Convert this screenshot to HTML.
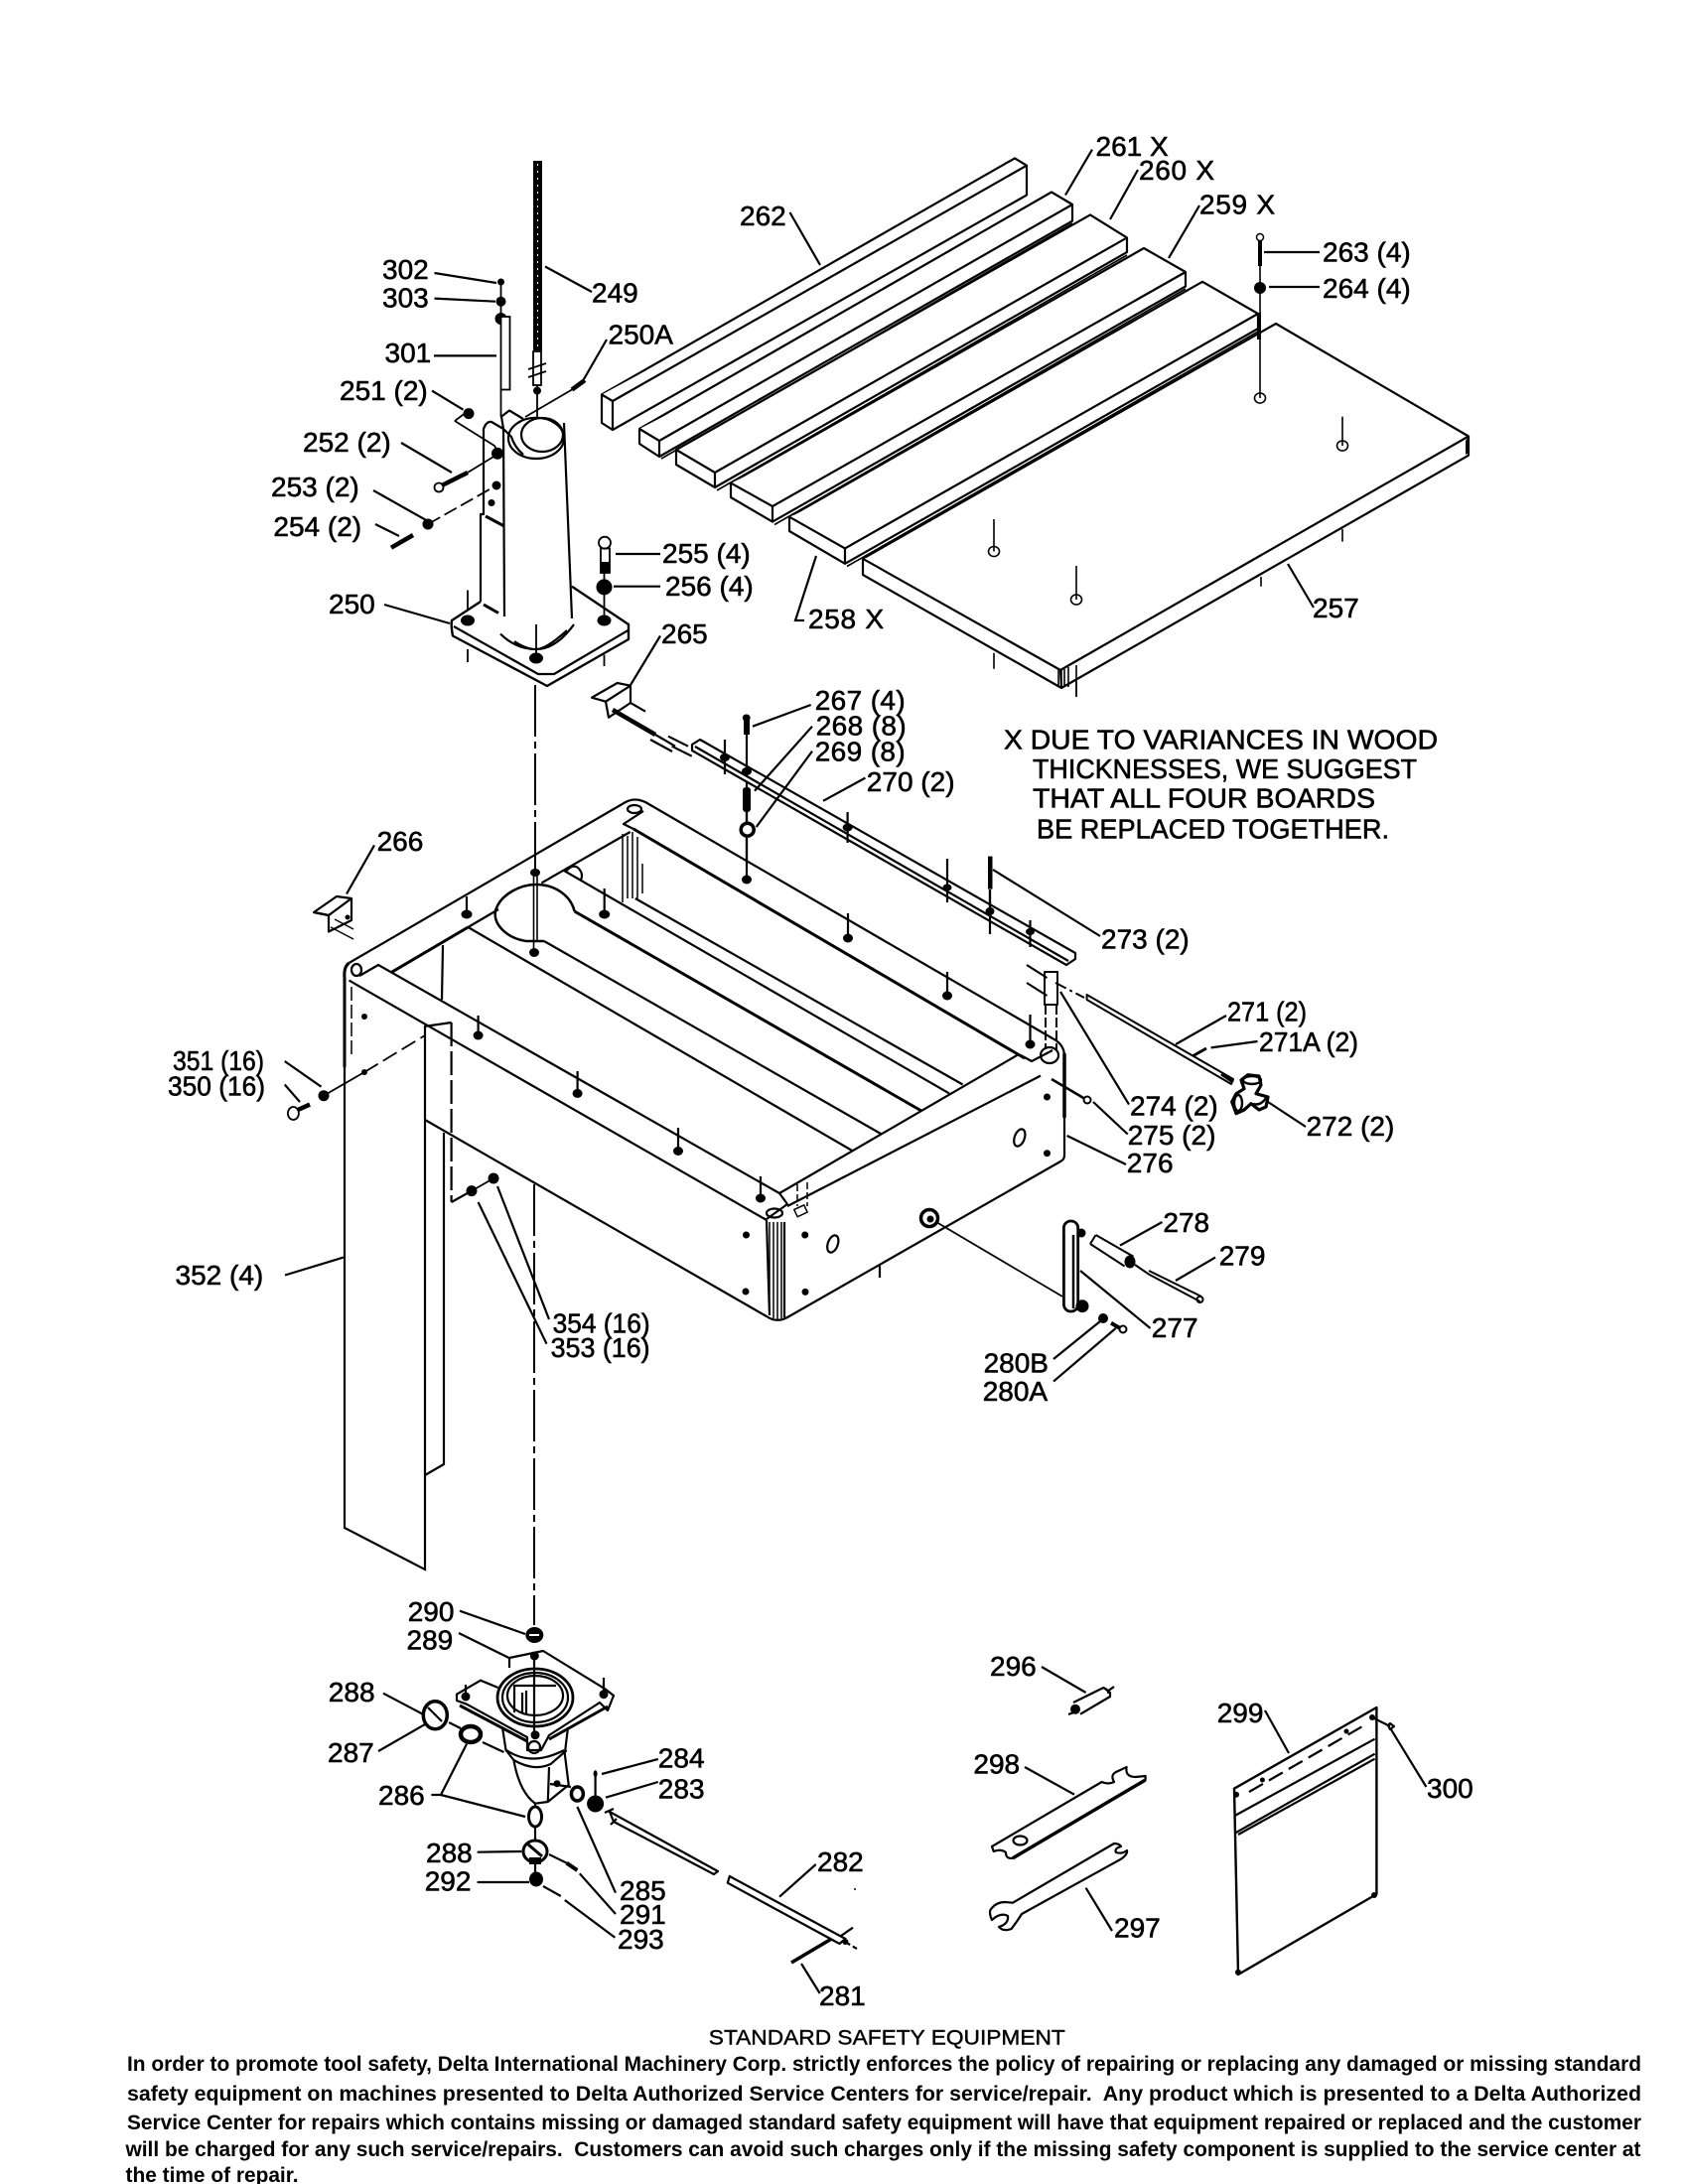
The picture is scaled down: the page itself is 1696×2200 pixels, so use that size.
<!DOCTYPE html>
<html><head><meta charset="utf-8"><style>
html,body{margin:0;padding:0;background:#fff}
svg{display:block}
text{font-family:"Liberation Sans",Arial,sans-serif;fill:#000}
.n text{font-size:28px;stroke:#000;stroke-width:.6px}
.f text{font-size:21px;font-weight:bold}
</style></head><body>
<svg width="1696" height="2200" viewBox="0 0 1696 2200" xmlns="http://www.w3.org/2000/svg">
<rect width="1696" height="2200" fill="#fff"/>

<!-- LEGS -->
<g fill="none" stroke="#000" stroke-width="2.2">
<path d="M347 1075V1539L428 1581V1034"/>
<path d="M447 1141V1475L428 1486"/>
<path d="M446 952L445 1007"/>
<path d="M427 1034L454.6 1030" />
<path d="M454.6 1030V1211" stroke-dasharray="24 5"/>
<path d="M454.6 1211L475 1199.6"/>
<path d="M287 1284.5L346 1266.6"/>
</g>

<!-- BOARDS -->
<g fill="#fff" stroke="#000" stroke-width="2.2" stroke-linejoin="round">
<path d="M606 397.5L1022 159.4L1034 166.7V196.5L617 433L606 426Z"/><path d="M606 397.5L617 404L1034 166.7M617 404V433"/>
<path d="M644 432L1059 193.5L1080 206V222.6L664 460L644 447Z"/><path d="M644 432L664 444L1080 206M664 444V460"/>
<path d="M681 453L1098 216.4L1135 239.4V254L720 491L681 468Z"/><path d="M681 453L720 476L1135 239.4M720 476V491"/>
<path d="M736 486.6L1152 250L1194 274V288.4L778 525.6L736 501Z"/><path d="M736 486.6L778 510L1194 274M778 510V525.6"/>
<path d="M795 520.7L1211 283.8L1267 316V331L851 567.8L795 535Z"/><path d="M795 520.7L851 552.4L1267 316M851 552.4V567.8"/>
<path d="M869 562.8L1285 326L1479 439.5V458.7L1069 693L869 579Z"/><path d="M869 562.8L1068 675L1479 439.5M1068 675L1069 693"/>
</g>
<g fill="none" stroke="#000" stroke-width="1.6">
<path d="M666 462L1080 225M722 494L1135 257M780 528.5L1194 291M853 570.5L1267 334"/>
<path d="M1072 674V692M1066 675V691M1069 675V693M1076 672V692M1084 670V702" />
<path d="M1269 238.6V401M1352 419.6V449M1001 523V555.5M1084 570V604"/>
<path d="M1352 533V545.6M1270 581V590.7M1001 657.7V673.8M1084 686V702"/>
<ellipse cx="1269" cy="401" rx="5.5" ry="5"/><ellipse cx="1352" cy="449" rx="5.5" ry="5"/><ellipse cx="1001" cy="555.5" rx="5.5" ry="5"/><ellipse cx="1084" cy="604" rx="5.5" ry="5"/>
</g>
<path d="M1476 444V458L1479 456V440Z" fill="#000"/>
<path d="M1268 315V342" stroke="#000" stroke-width="4"/>
<rect x="1267" y="241" width="4" height="27" fill="#000"/>
<circle cx="1269" cy="239" r="3.5" fill="#fff" stroke="#000" stroke-width="1.5"/>
<circle cx="1269" cy="290" r="6" fill="#000"/>

<!-- PILLAR -->
<g fill="none" stroke="#000" stroke-width="2.2" stroke-linejoin="round">
<path d="M484 606L455 625Q454 630 456 640.5L551 691L633 644V629L576 590.7" stroke-width="2.4"/>
<path d="M457 631L542 679H558L633 634.7"/>
<path d="M484 606L484 518L487 518L487 432Q490 424 495 425L507 432"/>
<path d="M507 432L508 621"/>
<path d="M568 426L576 623"/>
<ellipse cx="540" cy="441.4" rx="28" ry="20.6"/>
<ellipse cx="546" cy="438" rx="21" ry="17"/>
<path d="M505 419.6L513 413.5L527 422M505 419.6L507 432L515 440Q518 450 527 458"/>
<path d="M504 638.6Q520 654 540 654T578 629M518 646Q530 654 540 654T571 635"/>
<path d="M489 520L507 529.5M487 609L502 617.5" stroke-width="3"/>
</g>
<g fill="#000" stroke="none">
<ellipse cx="471" cy="625" rx="7" ry="5.5"/><ellipse cx="608.5" cy="625" rx="7" ry="5.5"/><ellipse cx="540" cy="663" rx="7" ry="5.5"/>
<circle cx="495" cy="506.5" r="3.5"/>
<rect x="537" y="162" width="9" height="191"/>
<circle cx="541" cy="393.6" r="4"/>
<circle cx="504.5" cy="284" r="3.5"/><circle cx="504.5" cy="303.7" r="5"/><circle cx="504.5" cy="321" r="6"/>
<circle cx="472" cy="416.6" r="5.5"/><circle cx="501" cy="456.8" r="6"/><circle cx="431" cy="528" r="5.5"/><circle cx="500" cy="489" r="4.5"/>
<circle cx="608.5" cy="591.4" r="8"/>
</g>
<g stroke="#fff" stroke-width="1" stroke-dasharray="2 5"><path d="M541.5 165V352"/></g>
<g fill="none" stroke="#000" stroke-width="1.8">
<rect x="537" y="354" width="8" height="34" fill="#fff"/>
<path d="M532 372L550 366M532 380L550 374M541 388V420"/>
<rect x="504.5" y="319" width="9" height="73.5" fill="#fff"/>
<path d="M504.5 284V319M504.5 392.5V420" />
<path d="M458 424L498 449L502 456M458 424L470 415"/>
<path d="M471 476L502 457"/>
<circle cx="442" cy="491" r="4.5"/>
<path d="M431 528L500 489" stroke-dasharray="14 5"/>
<path d="M529 420L576 392.5"/>
<circle cx="609" cy="546.7" r="6" />
<rect x="605" y="552.4" width="9" height="24.6"/>
<path d="M608.5 577V625M608.5 659.6V671M471 594.5V613.6M471 654V667M540 629V659.6"/>
</g>
<path d="M445 489L471 476M394 551.7L416 539M589 383L576 392.5" stroke="#000" stroke-width="4.5" fill="none"/>
<path d="M605 566H614V577H605Z" fill="#000"/>

<!-- CENTRE LINE -->
<path d="M539 690V880" fill="none" stroke="#000" stroke-width="2" stroke-dasharray="52 5 7 5"/>
<path d="M537.5 880V960M541 880V948" fill="none" stroke="#000" stroke-width="1.6"/>
<path d="M538 1193V1637" fill="none" stroke="#000" stroke-width="2" stroke-dasharray="52 5 7 5"/>

<!-- FRAME -->
<g fill="none" stroke="#000" stroke-width="2.2" stroke-linejoin="round">
<path d="M351.5 970L630 808Q639 803 650 808L1060 1046Q1072 1052 1072 1064V1164Q1072 1168 1068 1170L793 1327Q782 1333 772 1326L428 1128"/>
<path d="M351.5 970Q346 974 347 985V1075" stroke-width="3"/>
<path d="M351.5 987.6L772 1229M772 1229L775 1325M790 1231V1327M362 983L381 972L785 1202L793 1213L772 1228"/>
<path d="M793 1215L1048 1083.6M785 1202L1025 1062.6"/>
<path d="M394 979.6L471.4 934" stroke-width="3"/>
<path d="M471.4 934L859 1159.5M471.4 934L502 916M545.4 889.4L634.7 838"/>
<path d="M548 948H530C510 945 495 930 499.5 916C505 900 525 891 540 891C560 891 575 903 578.6 918" stroke-width="2.6"/>
<path d="M578.6 918L928 1119" stroke-width="3"/>
<path d="M548 948L887 1142"/>
<path d="M639.8 905L969.6 1092.5M568 877L956 1101.4"/>
<path d="M638 835L1032 1066" stroke-width="3"/>
<path d="M648 817L628 830L638 835M1028 1063L1039 1069L1060 1058"/>
<path d="M570 878Q576 870 582 874Q588 880 585 886"/>
<ellipse cx="639" cy="815" rx="7" ry="4"/><ellipse cx="359" cy="977" rx="5" ry="6"/><ellipse cx="780" cy="1222" rx="8" ry="4.5"/><ellipse cx="1057" cy="1063" rx="9" ry="8"/>
<path d="M627 840V909M632 842V905M637 838V905M642 843V905M647 870V900" stroke-width="1.5"/>
<path d="M354 994V1066" stroke-dasharray="14 4" stroke-width="1.5"/>
<path d="M775 1231V1325M779 1231V1328M783 1231V1329M787 1231V1328" stroke-width="1.5"/>
<path d="M803 1193V1215M813 1191V1215" stroke-width="1.5" stroke-dasharray="7 3"/>
<rect x="801" y="1216" width="11" height="8" transform="rotate(-25 806 1220)" stroke-width="1.5"/>
<ellipse cx="838.8" cy="1253" rx="5" ry="9" transform="rotate(20 838.8 1253)"/>
<ellipse cx="1026.8" cy="1146" rx="5" ry="9" transform="rotate(20 1026.8 1146)"/>
<path d="M886 1275V1287"/>
<path d="M470 903V920M608.7 895V920M752 776V886M854 920V945M481.6 1023V1043M581.6 1079V1101M683 1136V1159M766 1185V1207M954 979V1003M1037.5 1022V1052"/>
<path d="M1072 1061V1126" stroke-width="3.5"/>
</g>
<g fill="#000">
<ellipse cx="470" cy="921" rx="5.5" ry="4.5"/><ellipse cx="539" cy="879" rx="5" ry="4"/><ellipse cx="538" cy="959.5" rx="5" ry="4.5"/><ellipse cx="608.7" cy="921" rx="5.5" ry="4.5"/><ellipse cx="752" cy="886" rx="5" ry="4.5"/><ellipse cx="854" cy="945" rx="5" ry="4.5"/>
<ellipse cx="481.6" cy="1043" rx="5" ry="4.5"/><ellipse cx="581.6" cy="1101.4" rx="5" ry="4.5"/><ellipse cx="683" cy="1159.5" rx="5" ry="4.5"/><ellipse cx="766" cy="1207" rx="5" ry="4.5"/><ellipse cx="954" cy="1003" rx="5" ry="4.5"/><ellipse cx="1037.5" cy="1052" rx="5" ry="4.5"/>
<circle cx="751.5" cy="1244" r="3.5"/><circle cx="751" cy="1301" r="3.5"/><circle cx="810.7" cy="1244" r="3.5"/><circle cx="811" cy="1301.4" r="3.5"/><circle cx="1054.5" cy="1105" r="3.5"/><circle cx="1054.5" cy="1161.7" r="3.5"/><circle cx="367" cy="1024" r="3"/><circle cx="367" cy="1080" r="3"/>
<circle cx="326" cy="1103.7" r="5.5"/><circle cx="497" cy="1187" r="5.5"/><circle cx="475" cy="1199.6" r="5.5"/>
</g>
<g fill="none" stroke="#000" stroke-width="1.8">
<path d="M326 1103.7L367 1080"/><path d="M367 1080L428 1043" stroke-dasharray="16 6"/>
<ellipse cx="295.4" cy="1121.5" rx="5.5" ry="6.5"/>
<path d="M475 1199.6L497 1187"/>
<circle cx="936" cy="1227" r="8.5" stroke-width="3.5"/>
<path d="M943 1231L1070 1306"/>
</g>
<circle cx="937" cy="1228" r="3.5" fill="#000"/>
<path d="M300 1118L312 1112.6" stroke="#000" stroke-width="4.5"/>

<!-- 266 bracket -->
<g fill="#fff" stroke="#000" stroke-width="2.2" stroke-linejoin="round">
<path d="M316 919L339 903L354 905V927L331 938.5V922Z"/><path d="M316 919L331 922L354 905" fill="none"/>
<path d="M337 926L356 936M333 934L356 946" fill="none" stroke-width="1.4"/>
</g>
<circle cx="350" cy="924" r="2.5" fill="#000"/>

<!-- 265 bracket, rail 270 -->
<g fill="none" stroke="#000" stroke-width="2.2" stroke-linejoin="round">
<path d="M596 702.7L621.7 688L635 690.7V708L613 722.7L610 706.7ZM610 706.7L635 690.7" fill="#fff"/>
<path d="M635 708L650 716.7M673 741.7L693 751.7M676.7 751.7L696.7 761.7M660 740L680 751.7M655 745L677 757"/>
<path d="M705 745L1083 960L1083 966L1074 972L697 756V750Z" fill="#fff"/>
<path d="M700 752L1076 968"/>
<path d="M730 745V780M853.6 818V849M954 865V909M997 896V941M1037.5 927V954"/>
<path d="M752 723V777M752 818V868M997 896V918"/>
</g>
<path d="M617 715L660 740" stroke="#000" stroke-width="4.5"/>
<g fill="#000">
<ellipse cx="730" cy="763" rx="5" ry="4"/><ellipse cx="853.6" cy="833.6" rx="5" ry="4"/><ellipse cx="954" cy="894" rx="4.5" ry="3.5"/><ellipse cx="997" cy="918" rx="4.5" ry="4"/><ellipse cx="1037.5" cy="938.5" rx="4.5" ry="3.5"/><ellipse cx="752" cy="777" rx="5" ry="4"/>
<ellipse cx="751.7" cy="723" rx="4" ry="3.5"/><rect x="749" y="723" width="6" height="17"/><rect x="748" y="793" width="8" height="25" rx="3"/><rect x="995" y="862.6" width="4.5" height="33"/>
</g>
<circle cx="752.7" cy="835.7" r="6.5" fill="#fff" stroke="#000" stroke-width="3.5"/>

<!-- 271-275 parts -->
<g fill="none" stroke="#000" stroke-width="2" stroke-linejoin="round">
<rect x="1052" y="979" width="13" height="33"/>
<path d="M1053 1012V1057M1064 1012V1057" stroke-dasharray="10 3"/>
<path d="M1034 972L1054.5 985M1034 990L1054.5 1003"/>
<path d="M1063 990L1092 1005" stroke-dasharray="12 4 3 4"/>
<path d="M1094.6 1002L1242 1087L1240 1092L1094.6 1007Z"/>
<path d="M1059 1087L1094.6 1108" stroke-width="2.5"/><circle cx="1095" cy="1108" r="3.5" fill="#fff"/>
<path d="M1250 1088L1256.7 1082.7L1268 1084L1270 1093L1265 1101.7L1277 1105L1275 1115L1268 1118L1260 1111.7L1253 1118L1245 1121.7L1240.7 1110L1245 1101.7L1253 1096.7Z" stroke-width="3.2" fill="#fff"/>
<ellipse cx="1261" cy="1088" rx="9" ry="4" stroke-width="2.4"/>
<ellipse cx="1247" cy="1111" rx="4" ry="8" stroke-width="2.4"/>
<path d="M1262 1112Q1270 1114 1275 1106" stroke-width="2.4"/>
<path d="M1201.8 1063.5L1215 1056" stroke-width="3"/>
<path d="M1230 1082L1242 1090" stroke-width="3"/>
<rect x="1071.4" y="1230" width="14.3" height="91" rx="7" stroke-width="2.8"/>
<path d="M1081 1244V1318" stroke-width="2.5"/>
<path d="M1103.6 1244L1141.5 1265.7M1098 1253L1132.6 1275.5M1103.6 1244L1098 1253"/>
<path d="M1143 1274L1157 1283.6M1157 1283.6L1208.5 1311M1157 1280L1210 1306"/>
<circle cx="1208.5" cy="1309" r="3"/>
<circle cx="1131" cy="1339" r="3.5"/>
</g>
<g fill="#000"><circle cx="1089" cy="1242" r="4.5"/><circle cx="1090" cy="1315.7" r="6.5"/><ellipse cx="1138" cy="1271" rx="5.5" ry="6.5"/><circle cx="1111" cy="1328" r="5"/></g>
<path d="M1119 1332.7L1128 1338" stroke="#000" stroke-width="4"/>

<!-- LOWER ASSEMBLY -->
<g fill="none" stroke="#000" stroke-width="2.2" stroke-linejoin="round">
<path d="M506 1740L509.5 1763L517.4 1773Q523 1805 539 1816.7L551.8 1815L572.7 1798L568.8 1766.7L572 1740" fill="#fff"/>
<path d="M553 1780L551.8 1815M517.4 1773Q538 1785 555 1776.7L570.7 1763M510 1763Q535 1780 568 1763" />
<path d="M513 1670L547 1663L610 1701.7L618 1708L612 1723L604 1715L553 1748L545 1763H531V1750L470 1716.7L460 1713V1706.7L484 1692.7L501.6 1700" fill="#fff"/>
<path d="M513 1670V1680" />
<path d="M463 1718L531 1754M553 1752L612 1719" stroke-width="3"/>
<circle cx="538" cy="1760" r="6"/>
<ellipse cx="539" cy="1710" rx="38" ry="29" fill="#fff" stroke-width="2.8"/>
<ellipse cx="539" cy="1710" rx="33" ry="25"/>
<ellipse cx="539" cy="1708" rx="28" ry="20"/>
<path d="M518 1725V1698L560 1698M526 1725V1705M538 1670V1747M530 1703V1726"/>
<path d="M608 1690V1703M469 1697V1707"/>
<ellipse cx="438.3" cy="1727.7" rx="12" ry="14" stroke-width="3.5"/>
<path d="M431 1720L445 1734M452 1735L464 1741M486 1755L507.5 1765"/>
<ellipse cx="474" cy="1747" rx="10" ry="8" stroke-width="4.5" fill="#fff"/>
<path d="M554 1797L575 1800M599.6 1786.7V1817"/>
<ellipse cx="581.4" cy="1807" rx="6" ry="7" stroke-width="3.5"/>
<path d="M539 1817V1893"/>
<ellipse cx="539" cy="1830" rx="6.5" ry="10" fill="#fff" stroke-width="3"/>
<ellipse cx="539" cy="1865" rx="12" ry="11" fill="#fff" stroke-width="3"/>
<path d="M532 1858L546 1870" stroke-width="3"/>
<path d="M614 1825L723 1885L719 1888L618 1835Z"/>
<path d="M734.8 1890L851.4 1953L845.5 1958L732.8 1896.7Z"/>
<path d="M609 1826L618 1822M615 1838L621 1832M847 1950L859 1941.7"/>
<path d="M851 1956L863 1963" stroke-dasharray="6 3"/>
</g>
<g fill="#000">
<ellipse cx="538.3" cy="1647" rx="9" ry="8"/><circle cx="538.3" cy="1668" r="4.5"/><circle cx="469" cy="1709" r="4.5"/><circle cx="608" cy="1706.7" r="4.5"/><circle cx="539" cy="1747.7" r="4.5"/>
<circle cx="561" cy="1796.7" r="3.5"/><circle cx="599.6" cy="1817" r="8.5"/><ellipse cx="599.6" cy="1786.7" rx="2" ry="3.5"/>
<ellipse cx="540" cy="1893" rx="7" ry="7.5"/><circle cx="851.4" cy="1956" r="3"/><rect x="533" y="1871" width="12" height="7"/><circle cx="861" cy="1903" r="1"/>
</g>
<path d="M797 1977L837.5 1953" stroke="#000" stroke-width="3.5"/>
<path d="M533 1647H543" stroke="#fff" stroke-width="2"/>

<!-- WRENCHES / PANEL -->
<g fill="none" stroke="#000" stroke-width="2.2" stroke-linejoin="round">
<path d="M1081 1715L1111.4 1700L1118 1705V1709L1088 1726.7M1111 1700Q1117 1702 1116 1706M1076 1727L1084 1724M1115 1704L1122 1699"/>
<path d="M999 1860L1109.6 1795Q1116 1798 1122 1795Q1118 1788 1124 1785L1134.6 1780Q1133 1790 1143.6 1790L1153.6 1789V1793L1020 1871.7Q1013 1873 1013 1866Q1008 1862 1000.7 1865Z"/>
<path d="M1020 1871.7L1153.6 1793" stroke-width="3.5"/>
<ellipse cx="1027.5" cy="1854" rx="7" ry="4.5"/>
<path d="M1020 1916.7L1122 1857Q1127 1857 1129 1860Q1122 1862 1124 1866Q1130 1868 1135 1864Q1136 1868 1129 1872.7L1029 1928Q1024 1936 1018.6 1943Q1010 1946 1006 1941Q1016 1938 1015 1930Q1008 1926 999 1934Q995 1925 999 1922Q1004 1916 1012 1916Z"/>
<path d="M1243 1801.7L1386.4 1720V1908L1247 1989Z" stroke-width="2.4"/>
<path d="M1243.6 1829L1384.6 1751.7M1243.6 1846.7L1384.6 1766.7M1247 1848L1384.6 1771.7"/>
<path d="M1258 1805L1374 1738" stroke-dasharray="16 7"/>
<path d="M1382 1730L1400 1739"/><path d="M1400 1736L1404 1739L1400 1742L1398 1738Z"/>
</g>
<g fill="#000"><circle cx="1083" cy="1721.7" r="5"/><circle cx="1382" cy="1730" r="3"/><circle cx="1356" cy="1744" r="2.5"/><circle cx="1271.4" cy="1793" r="2.5"/><circle cx="1245" cy="1807.7" r="3"/><circle cx="1384" cy="1909" r="3"/><circle cx="1247" cy="1986.7" r="3"/></g>

<!-- LEADERS -->
<g fill="none" stroke="#000" stroke-width="2.2">
<path d="M795.5 214L826 267M437.5 275L500 285M437.5 300.6L499 303.7M549 268.5L596 294M611 342L588 382M437 358.4H500M435 393.6L466.5 412.7M404 446L455 476M376 494L428.6 523.7M378 528L402 540M387 609L453 628M620 558H665M618 590.7H665M822 560L801 625H810M665 640.5L635 690M1100 150.6L1073 196.5M1146 171L1118 221M1208 207L1177 260M1273 254H1329M1278 289H1329M1297 568L1323 612"/>
<path d="M816.7 710L758 731.7M818 731.7L760 796.7M818 756.7L761.7 833M829 806.8L871.4 783.6M1000 876L1108 943M1068 999L1137 1112.6M1101 1110L1135.7 1142.5M1074.6 1144L1134 1173M1184 1052L1235 1023M1219.6 1055.4L1266.5 1049M1277 1110L1315 1135M1128 1254.6L1170.5 1231M1184 1290L1224 1266.6M1088 1280L1158.5 1338M1061 1369L1108 1331M1061 1391.6L1123.7 1338"/>
<path d="M377 851.4L349 900.5M286.7 1069L323.5 1094.7M286.7 1092.5L302 1110M501 1195L553 1329M481.6 1211L550.5 1353.7"/>
<path d="M463 1622.7L529 1646M462 1645L512.6 1670M386 1705.7L425.7 1726.7M381 1764L428.5 1736.7M434.4 1808H444L470 1756.7M444 1808L529 1830M606 1787L662.8 1772M610 1810.7L662.8 1795M581.4 1820L620 1906.7M553 1868L570.7 1876.7M583.8 1887.3L620 1928M547 1900L564.8 1910M568.8 1914L619.4 1951.7M480.6 1865.7L525.3 1865M480.6 1896H533M821.7 1878L785 1910.7M807 1978L825.7 2008"/>
<path d="M1049 1679L1093.6 1705M1032 1780L1082 1807.7M1093.6 1901.7L1120 1945M1274 1723L1298 1766M1400.7 1741.7L1436.4 1800"/>
</g>
<path d="M570.7 1876.7L581.4 1884" stroke="#000" stroke-width="4"/>

<!-- LABELS -->
<g class="n">
<text x="745" y="227">262</text><text x="385" y="281">302</text><text x="385" y="309.4">303</text><text x="596" y="304.5">249</text><text x="612.5" y="346.5">250A</text><text x="387.5" y="365">301</text>
<text x="342" y="403">251 (2)</text><text x="305" y="455">252 (2)</text><text x="273" y="500">253 (2)</text><text x="275.4" y="540">254 (2)</text><text x="331" y="618">250</text>
<text x="667" y="567">255 (4)</text><text x="670" y="600">256 (4)</text><text x="814" y="633" textLength="76" lengthAdjust="spacing">258 X</text><text x="666" y="648">265</text>
<text x="1103.5" y="157">261 X</text><text x="1147" y="181" textLength="76" lengthAdjust="spacing">260 X</text><text x="1208" y="215.7" textLength="76" lengthAdjust="spacing">259 X</text><text x="1332" y="263.5">263 (4)</text><text x="1332" y="300">264 (4)</text><text x="1322" y="622">257</text>
<text x="820.7" y="715" textLength="91" lengthAdjust="spacing">267 (4)</text><text x="821.7" y="740.7" textLength="91" lengthAdjust="spacing">268 (8)</text><text x="820.7" y="766.7" textLength="91" lengthAdjust="spacing">269 (8)</text><text x="872.8" y="797">270 (2)</text>
<text x="379.6" y="856.8">266</text><text x="1109" y="955.4">273 (2)</text>
<text x="174" y="1078" textLength="92" lengthAdjust="spacingAndGlyphs">351 (16)</text><text x="169" y="1103.7" textLength="98" lengthAdjust="spacingAndGlyphs">350 (16)</text><text x="176.5" y="1294">352 (4)</text>
<text x="556.6" y="1342.5" textLength="98" lengthAdjust="spacingAndGlyphs">354 (16)</text><text x="554.6" y="1367" textLength="100" lengthAdjust="spacingAndGlyphs">353 (16)</text>
<text x="1236" y="1028.7" textLength="80" lengthAdjust="spacingAndGlyphs">271 (2)</text><text x="1268" y="1059" textLength="100" lengthAdjust="spacingAndGlyphs">271A (2)</text><text x="1315.6" y="1143.8">272 (2)</text>
<text x="1138" y="1123.7">274 (2)</text><text x="1135.7" y="1152.8">275 (2)</text><text x="1134.8" y="1181">276</text>
<text x="1171.4" y="1241">278</text><text x="1227.7" y="1274.6">279</text><text x="1159.8" y="1347">277</text><text x="990.6" y="1382.7">280B</text><text x="989.7" y="1410.8">280A</text>
<text x="410.7" y="1633">290</text><text x="409.5" y="1661.7">289</text><text x="330.8" y="1714">288</text><text x="330" y="1775">287</text><text x="381" y="1818">286</text>
<text x="662.8" y="1780.7">284</text><text x="662.8" y="1811.5">283</text><text x="624" y="1914">285</text><text x="624" y="1938">291</text><text x="622" y="1963">293</text>
<text x="429" y="1876">288</text><text x="427.7" y="1904.3">292</text><text x="823" y="1885">282</text><text x="825" y="2020">281</text>
<text x="997" y="1688">296</text><text x="980.4" y="1786.7">298</text><text x="1122" y="1951.7">297</text><text x="1225.7" y="1735">299</text><text x="1437" y="1811">300</text>
<text x="1011" y="754.6" textLength="437" lengthAdjust="spacingAndGlyphs">X DUE TO VARIANCES IN WOOD</text>
<text x="1040" y="784" textLength="387" lengthAdjust="spacingAndGlyphs">THICKNESSES, WE SUGGEST</text>
<text x="1040" y="813.5" textLength="345" lengthAdjust="spacingAndGlyphs">THAT ALL FOUR BOARDS</text>
<text x="1044" y="844.7" textLength="355" lengthAdjust="spacingAndGlyphs">BE REPLACED TOGETHER.</text>
</g>

<!-- FOOTER -->
<g class="f">
<text x="713.8" y="2059.3" textLength="359" lengthAdjust="spacingAndGlyphs" style="font-weight:normal;stroke:#000;stroke-width:.4px">STANDARD SAFETY EQUIPMENT</text>
<text x="128" y="2086" textLength="1525" lengthAdjust="spacingAndGlyphs">In order to promote tool safety, Delta International Machinery Corp. strictly enforces the policy of repairing or replacing any damaged or missing standard</text>
<text x="128" y="2116" textLength="1525" lengthAdjust="spacingAndGlyphs">safety equipment on machines presented to Delta Authorized Service Centers for service/repair.&#160; Any product which is presented to a Delta Authorized</text>
<text x="128" y="2145" textLength="1525" lengthAdjust="spacingAndGlyphs">Service Center for repairs which contains missing or damaged standard safety equipment will have that equipment repaired or replaced and the customer</text>
<text x="126.5" y="2172" textLength="1526" lengthAdjust="spacingAndGlyphs">will be charged for any such service/repairs.&#160; Customers can avoid such charges only if the missing safety component is supplied to the service center at</text>
<text x="126.5" y="2198" textLength="174" lengthAdjust="spacingAndGlyphs">the time of repair.</text>
</g>
</svg>
</body></html>
